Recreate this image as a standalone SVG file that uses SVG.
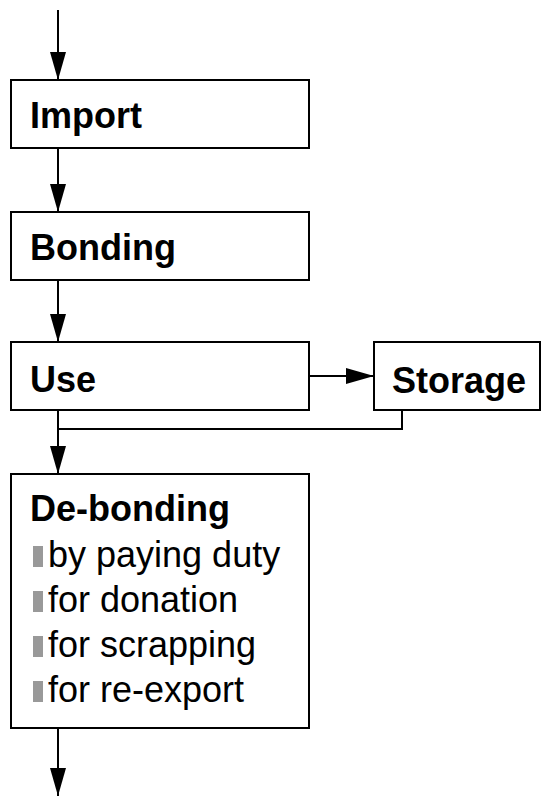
<svg xmlns="http://www.w3.org/2000/svg" width="541" height="796" viewBox="0 0 541 796">
<style>
.box{fill:#fff;stroke:#000;stroke-width:2}
.t{font-family:"Liberation Sans",Arial,sans-serif;font-size:36px;fill:#000}
.b{font-weight:bold}
.ln{fill:none;stroke:#000;stroke-width:2}
.bul{fill:#999}
</style>
<defs>
<marker id="ah" viewBox="0 0 28 16" refX="28" refY="8" markerWidth="28" markerHeight="16" markerUnits="userSpaceOnUse" orient="auto"><path d="M0,0 L28,8 L0,16 z" fill="#000"/></marker>
</defs>
<rect width="541" height="796" fill="#fff"/>
<g id="connectors">
<line class="ln" x1="58" y1="10" x2="58" y2="80" marker-end="url(#ah)"/>
<line class="ln" x1="58" y1="148" x2="58" y2="212" marker-end="url(#ah)"/>
<line class="ln" x1="58" y1="280" x2="58" y2="342" marker-end="url(#ah)"/>
<line class="ln" x1="309" y1="376" x2="374" y2="376" marker-end="url(#ah)"/>
<polyline class="ln" points="402,410 402,429 58,429"/>
<line class="ln" x1="58" y1="410" x2="58" y2="474" marker-end="url(#ah)"/>
<line class="ln" x1="58" y1="728" x2="58" y2="796" marker-end="url(#ah)"/>
</g>
<g id="import">
<rect class="box" x="11" y="80" width="298" height="68"/>
<text class="t b" x="30" y="128">Import</text>
</g>
<g id="bonding">
<rect class="box" x="11" y="212" width="298" height="68"/>
<text class="t b" x="30" y="260">Bonding</text>
</g>
<g id="use">
<rect class="box" x="11" y="342" width="298" height="68"/>
<text class="t b" x="30" y="392">Use</text>
</g>
<g id="storage">
<rect class="box" x="374" y="342" width="166" height="68"/>
<text class="t b" x="392" y="393">Storage</text>
</g>
<g id="debonding">
<rect class="box" x="11" y="474" width="298" height="254"/>
<text class="t b" x="30" y="521">De-bonding</text>
<rect class="bul" x="33" y="546" width="10" height="21"/>
<text class="t" x="48" y="567">by paying duty</text>
<rect class="bul" x="33" y="591" width="10" height="21"/>
<text class="t" x="48" y="612">for donation</text>
<rect class="bul" x="33" y="636" width="10" height="21"/>
<text class="t" x="48" y="657">for scrapping</text>
<rect class="bul" x="33" y="681" width="10" height="21"/>
<text class="t" x="48" y="702">for re-export</text>
</g>
</svg>
